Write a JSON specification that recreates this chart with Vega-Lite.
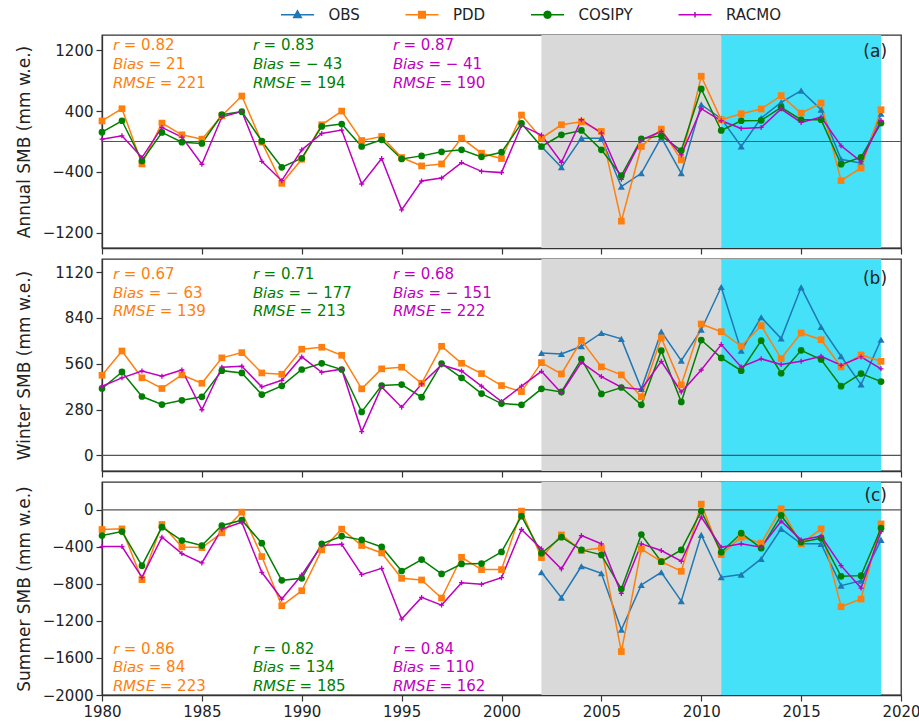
{
"$schema": "https://vega.github.io/schema/vega-lite/v6.json",
"padding": {"left": 14, "top": 7, "right": 8, "bottom": 4},
"background": "white",
"config": {
  "font": "DejaVu Sans",
  "view": {"stroke": "#333333", "strokeWidth": 1.3},
  "axis": {"grid": false, "domainColor": "#333333", "domainWidth": 1.3, "tickColor": "#333333", "tickWidth": 1.2, "tickSize": 6, "labelFontSize": 15, "labelColor": "#222222", "labelPadding": 3, "labelFlush": false, "titleFontSize": 17, "titleFontWeight": "normal", "titleColor": "#222222", "labelFont": "DejaVu Sans", "titleFont": "DejaVu Sans"},
  "text": {"font": "DejaVu Sans"}
},
"datasets": {
  "periods": [{"period": "calibration", "year": 2002, "end": 2011}, {"period": "validation", "year": 2011, "end": 2019}],
  "stats": [
    {"panel": "a", "model": "PDD", "year": 1980.55, "smb": 1267, "text": ["\uD835\uDE33 = 0.82", "\uD835\uDE09\uD835\uDE2A\uD835\uDE22\uD835\uDE34 = 21", "\uD835\uDE19\uD835\uDE14\uD835\uDE1A\uD835\uDE0C = 221"]},
    {"panel": "a", "model": "COSIPY", "year": 1987.55, "smb": 1267, "text": ["\uD835\uDE33 = 0.83", "\uD835\uDE09\uD835\uDE2A\uD835\uDE22\uD835\uDE34 = \u2212 43", "\uD835\uDE19\uD835\uDE14\uD835\uDE1A\uD835\uDE0C = 194"]},
    {"panel": "a", "model": "RACMO", "year": 1994.55, "smb": 1267, "text": ["\uD835\uDE33 = 0.87", "\uD835\uDE09\uD835\uDE2A\uD835\uDE22\uD835\uDE34 = \u2212 41", "\uD835\uDE19\uD835\uDE14\uD835\uDE1A\uD835\uDE0C = 190"]},
    {"panel": "b", "model": "PDD", "year": 1980.55, "smb": 1108, "text": ["\uD835\uDE33 = 0.67", "\uD835\uDE09\uD835\uDE2A\uD835\uDE22\uD835\uDE34 = \u2212 63", "\uD835\uDE19\uD835\uDE14\uD835\uDE1A\uD835\uDE0C = 139"]},
    {"panel": "b", "model": "COSIPY", "year": 1987.55, "smb": 1108, "text": ["\uD835\uDE33 = 0.71", "\uD835\uDE09\uD835\uDE2A\uD835\uDE22\uD835\uDE34 = \u2212 177", "\uD835\uDE19\uD835\uDE14\uD835\uDE1A\uD835\uDE0C = 213"]},
    {"panel": "b", "model": "RACMO", "year": 1994.55, "smb": 1108, "text": ["\uD835\uDE33 = 0.68", "\uD835\uDE09\uD835\uDE2A\uD835\uDE22\uD835\uDE34 = \u2212 151", "\uD835\uDE19\uD835\uDE14\uD835\uDE1A\uD835\uDE0C = 222"]},
    {"panel": "c", "model": "PDD", "year": 1980.55, "smb": -1499, "text": ["\uD835\uDE33 = 0.86", "\uD835\uDE09\uD835\uDE2A\uD835\uDE22\uD835\uDE34 = 84", "\uD835\uDE19\uD835\uDE14\uD835\uDE1A\uD835\uDE0C = 223"]},
    {"panel": "c", "model": "COSIPY", "year": 1987.55, "smb": -1499, "text": ["\uD835\uDE33 = 0.82", "\uD835\uDE09\uD835\uDE2A\uD835\uDE22\uD835\uDE34 = 134", "\uD835\uDE19\uD835\uDE14\uD835\uDE1A\uD835\uDE0C = 185"]},
    {"panel": "c", "model": "RACMO", "year": 1994.55, "smb": -1499, "text": ["\uD835\uDE33 = 0.84", "\uD835\uDE09\uD835\uDE2A\uD835\uDE22\uD835\uDE34 = 110", "\uD835\uDE19\uD835\uDE14\uD835\uDE1A\uD835\uDE0C = 162"]}
  ],
  "annual": [
    {"model":"OBS","year":2002,"smb":-66},{"model":"OBS","year":2003,"smb":-339},{"model":"OBS","year":2004,"smb":44},{"model":"OBS","year":2005,"smb":44},{"model":"OBS","year":2006,"smb":-594},{"model":"OBS","year":2007,"smb":-418},{"model":"OBS","year":2008,"smb":55},{"model":"OBS","year":2009,"smb":-418},{"model":"OBS","year":2010,"smb":484},{"model":"OBS","year":2011,"smb":300},{"model":"OBS","year":2012,"smb":-66},{"model":"OBS","year":2013,"smb":308},{"model":"OBS","year":2014,"smb":515},{"model":"OBS","year":2015,"smb":669},{"model":"OBS","year":2016,"smb":418},{"model":"OBS","year":2017,"smb":-233},{"model":"OBS","year":2018,"smb":-286},{"model":"OBS","year":2019,"smb":365},
    {"model":"PDD","year":1980,"smb":270},{"model":"PDD","year":1981,"smb":431},{"model":"PDD","year":1982,"smb":-295},{"model":"PDD","year":1983,"smb":242},{"model":"PDD","year":1984,"smb":88},{"model":"PDD","year":1985,"smb":31},{"model":"PDD","year":1986,"smb":339},{"model":"PDD","year":1987,"smb":598},{"model":"PDD","year":1988,"smb":-9},{"model":"PDD","year":1989,"smb":-550},{"model":"PDD","year":1990,"smb":-233},{"model":"PDD","year":1991,"smb":220},{"model":"PDD","year":1992,"smb":400},{"model":"PDD","year":1993,"smb":13},{"model":"PDD","year":1994,"smb":66},{"model":"PDD","year":1995,"smb":-211},{"model":"PDD","year":1996,"smb":-321},{"model":"PDD","year":1997,"smb":-295},{"model":"PDD","year":1998,"smb":44},{"model":"PDD","year":1999,"smb":-154},{"model":"PDD","year":2000,"smb":-224},{"model":"PDD","year":2001,"smb":348},{"model":"PDD","year":2002,"smb":44},{"model":"PDD","year":2003,"smb":220},{"model":"PDD","year":2004,"smb":260},{"model":"PDD","year":2005,"smb":132},{"model":"PDD","year":2006,"smb":-1047},{"model":"PDD","year":2007,"smb":-66},{"model":"PDD","year":2008,"smb":163},{"model":"PDD","year":2009,"smb":-242},{"model":"PDD","year":2010,"smb":858},{"model":"PDD","year":2011,"smb":286},{"model":"PDD","year":2012,"smb":365},{"model":"PDD","year":2013,"smb":427},{"model":"PDD","year":2014,"smb":603},{"model":"PDD","year":2015,"smb":374},{"model":"PDD","year":2016,"smb":506},{"model":"PDD","year":2017,"smb":-515},{"model":"PDD","year":2018,"smb":-348},{"model":"PDD","year":2019,"smb":418},
    {"model":"COSIPY","year":1980,"smb":123},{"model":"COSIPY","year":1981,"smb":273},{"model":"COSIPY","year":1982,"smb":-255},{"model":"COSIPY","year":1983,"smb":119},{"model":"COSIPY","year":1984,"smb":-9},{"model":"COSIPY","year":1985,"smb":-26},{"model":"COSIPY","year":1986,"smb":352},{"model":"COSIPY","year":1987,"smb":392},{"model":"COSIPY","year":1988,"smb":4},{"model":"COSIPY","year":1989,"smb":-339},{"model":"COSIPY","year":1990,"smb":-220},{"model":"COSIPY","year":1991,"smb":198},{"model":"COSIPY","year":1992,"smb":229},{"model":"COSIPY","year":1993,"smb":-66},{"model":"COSIPY","year":1994,"smb":22},{"model":"COSIPY","year":1995,"smb":-229},{"model":"COSIPY","year":1996,"smb":-189},{"model":"COSIPY","year":1997,"smb":-136},{"model":"COSIPY","year":1998,"smb":-110},{"model":"COSIPY","year":1999,"smb":-202},{"model":"COSIPY","year":2000,"smb":-141},{"model":"COSIPY","year":2001,"smb":238},{"model":"COSIPY","year":2002,"smb":-66},{"model":"COSIPY","year":2003,"smb":88},{"model":"COSIPY","year":2004,"smb":145},{"model":"COSIPY","year":2005,"smb":-110},{"model":"COSIPY","year":2006,"smb":-449},{"model":"COSIPY","year":2007,"smb":35},{"model":"COSIPY","year":2008,"smb":75},{"model":"COSIPY","year":2009,"smb":-119},{"model":"COSIPY","year":2010,"smb":691},{"model":"COSIPY","year":2011,"smb":145},{"model":"COSIPY","year":2012,"smb":273},{"model":"COSIPY","year":2013,"smb":277},{"model":"COSIPY","year":2014,"smb":449},{"model":"COSIPY","year":2015,"smb":286},{"model":"COSIPY","year":2016,"smb":286},{"model":"COSIPY","year":2017,"smb":-299},{"model":"COSIPY","year":2018,"smb":-207},{"model":"COSIPY","year":2019,"smb":242},
    {"model":"RACMO","year":1980,"smb":31},{"model":"RACMO","year":1981,"smb":75},{"model":"RACMO","year":1982,"smb":-211},{"model":"RACMO","year":1983,"smb":185},{"model":"RACMO","year":1984,"smb":57},{"model":"RACMO","year":1985,"smb":-299},{"model":"RACMO","year":1986,"smb":321},{"model":"RACMO","year":1987,"smb":396},{"model":"RACMO","year":1988,"smb":-260},{"model":"RACMO","year":1989,"smb":-515},{"model":"RACMO","year":1990,"smb":-110},{"model":"RACMO","year":1991,"smb":106},{"model":"RACMO","year":1992,"smb":150},{"model":"RACMO","year":1993,"smb":-559},{"model":"RACMO","year":1994,"smb":-224},{"model":"RACMO","year":1995,"smb":-898},{"model":"RACMO","year":1996,"smb":-519},{"model":"RACMO","year":1997,"smb":-480},{"model":"RACMO","year":1998,"smb":-277},{"model":"RACMO","year":1999,"smb":-392},{"model":"RACMO","year":2000,"smb":-409},{"model":"RACMO","year":2001,"smb":211},{"model":"RACMO","year":2002,"smb":84},{"model":"RACMO","year":2003,"smb":-273},{"model":"RACMO","year":2004,"smb":286},{"model":"RACMO","year":2005,"smb":110},{"model":"RACMO","year":2006,"smb":-497},{"model":"RACMO","year":2007,"smb":22},{"model":"RACMO","year":2008,"smb":132},{"model":"RACMO","year":2009,"smb":-176},{"model":"RACMO","year":2010,"smb":431},{"model":"RACMO","year":2011,"smb":273},{"model":"RACMO","year":2012,"smb":172},{"model":"RACMO","year":2013,"smb":185},{"model":"RACMO","year":2014,"smb":427},{"model":"RACMO","year":2015,"smb":251},{"model":"RACMO","year":2016,"smb":321},{"model":"RACMO","year":2017,"smb":-57},{"model":"RACMO","year":2018,"smb":-264},{"model":"RACMO","year":2019,"smb":277}
  ],
  "winter": [
    {"model":"OBS","year":2002,"smb":626},{"model":"OBS","year":2003,"smb":620},{"model":"OBS","year":2004,"smb":667},{"model":"OBS","year":2005,"smb":748},{"model":"OBS","year":2006,"smb":712},{"model":"OBS","year":2007,"smb":407},{"model":"OBS","year":2008,"smb":756},{"model":"OBS","year":2009,"smb":579},{"model":"OBS","year":2010,"smb":768},{"model":"OBS","year":2011,"smb":1029},{"model":"OBS","year":2012,"smb":640},{"model":"OBS","year":2013,"smb":844},{"model":"OBS","year":2014,"smb":714},{"model":"OBS","year":2015,"smb":1027},{"model":"OBS","year":2016,"smb":785},{"model":"OBS","year":2017,"smb":606},{"model":"OBS","year":2018,"smb":433},{"model":"OBS","year":2019,"smb":707},
    {"model":"PDD","year":1980,"smb":490},{"model":"PDD","year":1981,"smb":638},{"model":"PDD","year":1982,"smb":474},{"model":"PDD","year":1983,"smb":409},{"model":"PDD","year":1984,"smb":492},{"model":"PDD","year":1985,"smb":441},{"model":"PDD","year":1986,"smb":596},{"model":"PDD","year":1987,"smb":628},{"model":"PDD","year":1988,"smb":504},{"model":"PDD","year":1989,"smb":496},{"model":"PDD","year":1990,"smb":649},{"model":"PDD","year":1991,"smb":661},{"model":"PDD","year":1992,"smb":612},{"model":"PDD","year":1993,"smb":407},{"model":"PDD","year":1994,"smb":529},{"model":"PDD","year":1995,"smb":539},{"model":"PDD","year":1996,"smb":441},{"model":"PDD","year":1997,"smb":667},{"model":"PDD","year":1998,"smb":563},{"model":"PDD","year":1999,"smb":500},{"model":"PDD","year":2000,"smb":427},{"model":"PDD","year":2001,"smb":390},{"model":"PDD","year":2002,"smb":567},{"model":"PDD","year":2003,"smb":498},{"model":"PDD","year":2004,"smb":703},{"model":"PDD","year":2005,"smb":541},{"model":"PDD","year":2006,"smb":492},{"model":"PDD","year":2007,"smb":358},{"model":"PDD","year":2008,"smb":718},{"model":"PDD","year":2009,"smb":431},{"model":"PDD","year":2010,"smb":803},{"model":"PDD","year":2011,"smb":756},{"model":"PDD","year":2012,"smb":667},{"model":"PDD","year":2013,"smb":793},{"model":"PDD","year":2014,"smb":592},{"model":"PDD","year":2015,"smb":748},{"model":"PDD","year":2016,"smb":707},{"model":"PDD","year":2017,"smb":541},{"model":"PDD","year":2018,"smb":614},{"model":"PDD","year":2019,"smb":575},
    {"model":"COSIPY","year":1980,"smb":409},{"model":"COSIPY","year":1981,"smb":510},{"model":"COSIPY","year":1982,"smb":360},{"model":"COSIPY","year":1983,"smb":311},{"model":"COSIPY","year":1984,"smb":337},{"model":"COSIPY","year":1985,"smb":358},{"model":"COSIPY","year":1986,"smb":518},{"model":"COSIPY","year":1987,"smb":504},{"model":"COSIPY","year":1988,"smb":372},{"model":"COSIPY","year":1989,"smb":425},{"model":"COSIPY","year":1990,"smb":525},{"model":"COSIPY","year":1991,"smb":563},{"model":"COSIPY","year":1992,"smb":525},{"model":"COSIPY","year":1993,"smb":266},{"model":"COSIPY","year":1994,"smb":427},{"model":"COSIPY","year":1995,"smb":433},{"model":"COSIPY","year":1996,"smb":356},{"model":"COSIPY","year":1997,"smb":561},{"model":"COSIPY","year":1998,"smb":474},{"model":"COSIPY","year":1999,"smb":378},{"model":"COSIPY","year":2000,"smb":317},{"model":"COSIPY","year":2001,"smb":309},{"model":"COSIPY","year":2002,"smb":407},{"model":"COSIPY","year":2003,"smb":388},{"model":"COSIPY","year":2004,"smb":588},{"model":"COSIPY","year":2005,"smb":376},{"model":"COSIPY","year":2006,"smb":415},{"model":"COSIPY","year":2007,"smb":309},{"model":"COSIPY","year":2008,"smb":640},{"model":"COSIPY","year":2009,"smb":327},{"model":"COSIPY","year":2010,"smb":705},{"model":"COSIPY","year":2011,"smb":596},{"model":"COSIPY","year":2012,"smb":518},{"model":"COSIPY","year":2013,"smb":701},{"model":"COSIPY","year":2014,"smb":502},{"model":"COSIPY","year":2015,"smb":642},{"model":"COSIPY","year":2016,"smb":586},{"model":"COSIPY","year":2017,"smb":423},{"model":"COSIPY","year":2018,"smb":500},{"model":"COSIPY","year":2019,"smb":451},
    {"model":"RACMO","year":1980,"smb":423},{"model":"RACMO","year":1981,"smb":474},{"model":"RACMO","year":1982,"smb":516},{"model":"RACMO","year":1983,"smb":484},{"model":"RACMO","year":1984,"smb":522},{"model":"RACMO","year":1985,"smb":279},{"model":"RACMO","year":1986,"smb":539},{"model":"RACMO","year":1987,"smb":545},{"model":"RACMO","year":1988,"smb":419},{"model":"RACMO","year":1989,"smb":459},{"model":"RACMO","year":1990,"smb":602},{"model":"RACMO","year":1991,"smb":508},{"model":"RACMO","year":1992,"smb":527},{"model":"RACMO","year":1993,"smb":146},{"model":"RACMO","year":1994,"smb":419},{"model":"RACMO","year":1995,"smb":295},{"model":"RACMO","year":1996,"smb":437},{"model":"RACMO","year":1997,"smb":553},{"model":"RACMO","year":1998,"smb":516},{"model":"RACMO","year":1999,"smb":423},{"model":"RACMO","year":2000,"smb":329},{"model":"RACMO","year":2001,"smb":423},{"model":"RACMO","year":2002,"smb":514},{"model":"RACMO","year":2003,"smb":382},{"model":"RACMO","year":2004,"smb":569},{"model":"RACMO","year":2005,"smb":482},{"model":"RACMO","year":2006,"smb":417},{"model":"RACMO","year":2007,"smb":403},{"model":"RACMO","year":2008,"smb":575},{"model":"RACMO","year":2009,"smb":388},{"model":"RACMO","year":2010,"smb":522},{"model":"RACMO","year":2011,"smb":677},{"model":"RACMO","year":2012,"smb":541},{"model":"RACMO","year":2013,"smb":590},{"model":"RACMO","year":2014,"smb":555},{"model":"RACMO","year":2015,"smb":575},{"model":"RACMO","year":2016,"smb":606},{"model":"RACMO","year":2017,"smb":551},{"model":"RACMO","year":2018,"smb":602},{"model":"RACMO","year":2019,"smb":529}
  ],
  "summer": [
    {"model":"OBS","year":2002,"smb":-675},{"model":"OBS","year":2003,"smb":-949},{"model":"OBS","year":2004,"smb":-610},{"model":"OBS","year":2005,"smb":-686},{"model":"OBS","year":2006,"smb":-1296},{"model":"OBS","year":2007,"smb":-812},{"model":"OBS","year":2008,"smb":-675},{"model":"OBS","year":2009,"smb":-986},{"model":"OBS","year":2010,"smb":-271},{"model":"OBS","year":2011,"smb":-729},{"model":"OBS","year":2012,"smb":-700},{"model":"OBS","year":2013,"smb":-531},{"model":"OBS","year":2014,"smb":-206},{"model":"OBS","year":2015,"smb":-368},{"model":"OBS","year":2016,"smb":-368},{"model":"OBS","year":2017,"smb":-819},{"model":"OBS","year":2018,"smb":-765},{"model":"OBS","year":2019,"smb":-325},
    {"model":"PDD","year":1980,"smb":-213},{"model":"PDD","year":1981,"smb":-206},{"model":"PDD","year":1982,"smb":-754},{"model":"PDD","year":1983,"smb":-159},{"model":"PDD","year":1984,"smb":-401},{"model":"PDD","year":1985,"smb":-408},{"model":"PDD","year":1986,"smb":-249},{"model":"PDD","year":1987,"smb":-25},{"model":"PDD","year":1988,"smb":-505},{"model":"PDD","year":1989,"smb":-1036},{"model":"PDD","year":1990,"smb":-874},{"model":"PDD","year":1991,"smb":-433},{"model":"PDD","year":1992,"smb":-209},{"model":"PDD","year":1993,"smb":-386},{"model":"PDD","year":1994,"smb":-466},{"model":"PDD","year":1995,"smb":-740},{"model":"PDD","year":1996,"smb":-758},{"model":"PDD","year":1997,"smb":-953},{"model":"PDD","year":1998,"smb":-513},{"model":"PDD","year":1999,"smb":-646},{"model":"PDD","year":2000,"smb":-646},{"model":"PDD","year":2001,"smb":-14},{"model":"PDD","year":2002,"smb":-516},{"model":"PDD","year":2003,"smb":-271},{"model":"PDD","year":2004,"smb":-440},{"model":"PDD","year":2005,"smb":-412},{"model":"PDD","year":2006,"smb":-1531},{"model":"PDD","year":2007,"smb":-422},{"model":"PDD","year":2008,"smb":-560},{"model":"PDD","year":2009,"smb":-664},{"model":"PDD","year":2010,"smb":61},{"model":"PDD","year":2011,"smb":-484},{"model":"PDD","year":2012,"smb":-296},{"model":"PDD","year":2013,"smb":-361},{"model":"PDD","year":2014,"smb":11},{"model":"PDD","year":2015,"smb":-368},{"model":"PDD","year":2016,"smb":-206},{"model":"PDD","year":2017,"smb":-1047},{"model":"PDD","year":2018,"smb":-964},{"model":"PDD","year":2019,"smb":-152},
    {"model":"COSIPY","year":1980,"smb":-278},{"model":"COSIPY","year":1981,"smb":-235},{"model":"COSIPY","year":1982,"smb":-603},{"model":"COSIPY","year":1983,"smb":-188},{"model":"COSIPY","year":1984,"smb":-332},{"model":"COSIPY","year":1985,"smb":-386},{"model":"COSIPY","year":1986,"smb":-170},{"model":"COSIPY","year":1987,"smb":-112},{"model":"COSIPY","year":1988,"smb":-361},{"model":"COSIPY","year":1989,"smb":-762},{"model":"COSIPY","year":1990,"smb":-740},{"model":"COSIPY","year":1991,"smb":-368},{"model":"COSIPY","year":1992,"smb":-285},{"model":"COSIPY","year":1993,"smb":-325},{"model":"COSIPY","year":1994,"smb":-401},{"model":"COSIPY","year":1995,"smb":-661},{"model":"COSIPY","year":1996,"smb":-538},{"model":"COSIPY","year":1997,"smb":-693},{"model":"COSIPY","year":1998,"smb":-585},{"model":"COSIPY","year":1999,"smb":-581},{"model":"COSIPY","year":2000,"smb":-455},{"model":"COSIPY","year":2001,"smb":-69},{"model":"COSIPY","year":2002,"smb":-469},{"model":"COSIPY","year":2003,"smb":-296},{"model":"COSIPY","year":2004,"smb":-433},{"model":"COSIPY","year":2005,"smb":-487},{"model":"COSIPY","year":2006,"smb":-856},{"model":"COSIPY","year":2007,"smb":-267},{"model":"COSIPY","year":2008,"smb":-560},{"model":"COSIPY","year":2009,"smb":-433},{"model":"COSIPY","year":2010,"smb":-14},{"model":"COSIPY","year":2011,"smb":-458},{"model":"COSIPY","year":2012,"smb":-253},{"model":"COSIPY","year":2013,"smb":-415},{"model":"COSIPY","year":2014,"smb":-61},{"model":"COSIPY","year":2015,"smb":-350},{"model":"COSIPY","year":2016,"smb":-307},{"model":"COSIPY","year":2017,"smb":-718},{"model":"COSIPY","year":2018,"smb":-711},{"model":"COSIPY","year":2019,"smb":-199},
    {"model":"RACMO","year":1980,"smb":-397},{"model":"RACMO","year":1981,"smb":-397},{"model":"RACMO","year":1982,"smb":-729},{"model":"RACMO","year":1983,"smb":-296},{"model":"RACMO","year":1984,"smb":-473},{"model":"RACMO","year":1985,"smb":-574},{"model":"RACMO","year":1986,"smb":-209},{"model":"RACMO","year":1987,"smb":-134},{"model":"RACMO","year":1988,"smb":-675},{"model":"RACMO","year":1989,"smb":-964},{"model":"RACMO","year":1990,"smb":-704},{"model":"RACMO","year":1991,"smb":-386},{"model":"RACMO","year":1992,"smb":-372},{"model":"RACMO","year":1993,"smb":-700},{"model":"RACMO","year":1994,"smb":-632},{"model":"RACMO","year":1995,"smb":-1180},{"model":"RACMO","year":1996,"smb":-946},{"model":"RACMO","year":1997,"smb":-1029},{"model":"RACMO","year":1998,"smb":-787},{"model":"RACMO","year":1999,"smb":-805},{"model":"RACMO","year":2000,"smb":-733},{"model":"RACMO","year":2001,"smb":-213},{"model":"RACMO","year":2002,"smb":-422},{"model":"RACMO","year":2003,"smb":-639},{"model":"RACMO","year":2004,"smb":-278},{"model":"RACMO","year":2005,"smb":-368},{"model":"RACMO","year":2006,"smb":-903},{"model":"RACMO","year":2007,"smb":-368},{"model":"RACMO","year":2008,"smb":-440},{"model":"RACMO","year":2009,"smb":-556},{"model":"RACMO","year":2010,"smb":-79},{"model":"RACMO","year":2011,"smb":-404},{"model":"RACMO","year":2012,"smb":-368},{"model":"RACMO","year":2013,"smb":-404},{"model":"RACMO","year":2014,"smb":-123},{"model":"RACMO","year":2015,"smb":-325},{"model":"RACMO","year":2016,"smb":-285},{"model":"RACMO","year":2017,"smb":-603},{"model":"RACMO","year":2018,"smb":-845},{"model":"RACMO","year":2019,"smb":-235}
  ]
},
"spacing": 11,
"bounds": "flush",
"resolve": {"scale": {"x": "shared", "y": "independent", "color": "shared", "shape": "shared", "stroke": "shared", "fill": "shared"}, "axis": {"x": "independent", "y": "independent"}},
"vconcat": [
  {
    "width": 799, "height": 213,
    "layer": [
      {"data": {"name": "periods"}, "mark": {"type": "rect"},
       "encoding": {"x": {"field": "year", "type": "quantitative", "scale": {"domain": [1980, 2020], "nice": false}, "axis": {"title": null, "labels": false, "values": [1980,1985,1990,1995,2000,2005,2010,2015,2020]}}, "x2": {"field": "end"},
        "fill": {"condition": {"test": "datum.period === 'calibration'", "value": "#d9d9d9"}, "value": "#45e1f8"}}},
      {"data": {"values": [{}]}, "mark": {"type": "rule", "color": "#555555", "strokeWidth": 1.2},
       "encoding": {"y": {"datum": 0, "type": "quantitative", "scale": {"domain": [-1400, 1400], "nice": false, "zero": false}}}},
      {"data": {"name": "annual"}, "mark": {"type": "line", "strokeWidth": 1.5},
       "encoding": {
         "x": {"field": "year", "type": "quantitative", "scale": {"domain": [1980, 2020], "nice": false}, "axis": {"title": null, "labels": false, "values": [1980,1985,1990,1995,2000,2005,2010,2015,2020]}},
         "y": {"field": "smb", "type": "quantitative", "scale": {"domain": [-1400, 1400], "nice": false, "zero": false}, "axis": {"title": "Annual SMB (mm w.e.)", "values": [-1200,-800,-400,0,400,800,1200], "format": "d", "minExtent": 60, "maxExtent": 60, "titlePadding": 9}},
         "stroke": {"field": "model", "type": "nominal", "scale": {"domain": ["RACMO", "COSIPY", "PDD", "OBS"], "range": ["#bf00bf", "#008000", "#ff7f0e", "#1f77b4"]}, "legend": null},
         "detail": {"field": "model"}}},
      {"data": {"name": "annual"}, "transform": [{"filter": "datum.model === 'OBS'"}], "mark": {"type": "point", "filled": true, "opacity": 1, "shape": "triangle-up", "size": 50},
       "encoding": {"x": {"field": "year", "type": "quantitative"}, "y": {"field": "smb", "type": "quantitative"}, "fill": {"field": "model", "type": "nominal", "scale": {"domain": ["PDD", "COSIPY", "RACMO", "OBS"], "range": ["#ff7f0e", "#008000", "#bf00bf", "#1f77b4"]}, "legend": null}}},
      {"data": {"name": "annual"}, "transform": [{"filter": "datum.model === 'PDD'"}], "mark": {"type": "point", "filled": true, "opacity": 1, "shape": "square", "size": 45},
       "encoding": {"x": {"field": "year", "type": "quantitative"}, "y": {"field": "smb", "type": "quantitative"}, "fill": {"field": "model", "type": "nominal", "legend": null}}},
      {"data": {"name": "annual"}, "transform": [{"filter": "datum.model === 'COSIPY'"}], "mark": {"type": "point", "filled": true, "opacity": 1, "shape": "circle", "size": 45},
       "encoding": {"x": {"field": "year", "type": "quantitative"}, "y": {"field": "smb", "type": "quantitative"}, "fill": {"field": "model", "type": "nominal", "legend": null}}},
      {"data": {"name": "annual"}, "transform": [{"filter": "datum.model === 'RACMO'"}], "mark": {"type": "point", "filled": false, "opacity": 1, "shape": "M-1,0H1M0,-1V1", "size": 25, "strokeWidth": 1.3},
       "encoding": {"x": {"field": "year", "type": "quantitative"}, "y": {"field": "smb", "type": "quantitative"}, "stroke": {"field": "model", "type": "nominal", "legend": null}}},
      {"data": {"name": "annual"}, "transform": [{"filter": "datum.year < 0"}], "mark": {"type": "point", "filled": false, "opacity": 1, "strokeWidth": 1.5},
       "encoding": {"x": {"field": "year", "type": "quantitative"}, "y": {"field": "smb", "type": "quantitative"},
         "color": {"field": "model", "type": "nominal", "scale": {"domain": ["OBS", "PDD", "COSIPY", "RACMO"], "range": ["#1f77b4", "#ff7f0e", "#008000", "#bf00bf"]},
           "legend": {"orient": "none", "legendX": 188, "legendY": -28, "direction": "horizontal", "title": null, "symbolSize": 100, "symbolStrokeWidth": 1.5, "symbolOpacity": 1, "labelFontSize": 15, "labelColor": "#222222", "labelOffset": 23.5, "columnPadding": 42.5, "padding": 0}},
         "shape": {"field": "model", "type": "nominal",
           "scale": {"domain": ["OBS", "PDD", "COSIPY", "RACMO"], "range": [
             "M-3.3,0H3.3M0,-0.8L0.75,0.55L-0.75,0.55ZM0,-0.5L0.47,0.35L-0.47,0.35ZM0,-0.2L0.18,0.15L-0.18,0.15Z",
             "M-3.3,0H3.3M-0.65,-0.65H0.65V0.65H-0.65ZM-0.38,-0.38H0.38V0.38H-0.38ZM-0.1,-0.1H0.1V0.1H-0.1Z",
             "M-3.3,0H3.3M0.7,0L0.606,0.35L0.35,0.606L0,0.7L-0.35,0.606L-0.606,0.35L-0.7,0L-0.606,-0.35L-0.35,-0.606L0,-0.7L0.35,-0.606L0.606,-0.35ZM0.4,0L0.346,0.2L0.2,0.346L0,0.4L-0.2,0.346L-0.346,0.2L-0.4,0L-0.346,-0.2L-0.2,-0.346L0,-0.4L0.2,-0.346L0.346,-0.2ZM-0.1,-0.1H0.1V0.1H-0.1Z",
             "M-3.3,0H3.3M0,-0.55V0.55"]},
           "legend": {"orient": "none", "legendX": 188, "legendY": -28, "direction": "horizontal", "title": null, "symbolSize": 100, "symbolStrokeWidth": 1.5, "symbolOpacity": 1, "labelFontSize": 15, "labelColor": "#222222", "labelOffset": 23.5, "columnPadding": 42.5, "padding": 0}}}},
      {"data": {"name": "stats"}, "transform": [{"filter": "datum.panel === 'a'"}],
       "mark": {"type": "text", "align": "left", "baseline": "middle", "fontSize": 15, "lineHeight": 18.7},
       "encoding": {"x": {"field": "year", "type": "quantitative"}, "y": {"field": "smb", "type": "quantitative"}, "text": {"field": "text"}, "fill": {"field": "model", "type": "nominal", "legend": null}}},
      {"data": {"values": [{}]}, "mark": {"type": "text", "align": "right", "baseline": "middle", "fontSize": 17, "color": "#222222"},
       "encoding": {"x": {"datum": 2019.3, "type": "quantitative"}, "y": {"datum": 1180, "type": "quantitative"}, "text": {"value": "(a)"}}}
    ]
  },
  {
    "width": 799, "height": 212,
    "layer": [
      {"data": {"name": "periods"}, "mark": {"type": "rect"},
       "encoding": {"x": {"field": "year", "type": "quantitative", "scale": {"domain": [1980, 2020], "nice": false}, "axis": {"title": null, "labels": false, "values": [1980,1985,1990,1995,2000,2005,2010,2015,2020]}}, "x2": {"field": "end"},
        "fill": {"condition": {"test": "datum.period === 'calibration'", "value": "#d9d9d9"}, "value": "#45e1f8"}}},
      {"data": {"values": [{}]}, "mark": {"type": "rule", "color": "#555555", "strokeWidth": 1.2},
       "encoding": {"y": {"datum": 0, "type": "quantitative", "scale": {"domain": [-95, 1200], "nice": false, "zero": false}}}},
      {"data": {"name": "winter"}, "mark": {"type": "line", "strokeWidth": 1.5},
       "encoding": {
         "x": {"field": "year", "type": "quantitative", "scale": {"domain": [1980, 2020], "nice": false}, "axis": {"title": null, "labels": false, "values": [1980,1985,1990,1995,2000,2005,2010,2015,2020]}},
         "y": {"field": "smb", "type": "quantitative", "scale": {"domain": [-95, 1200], "nice": false, "zero": false}, "axis": {"title": "Winter SMB (mm w.e.)", "values": [0,280,560,840,1120], "format": "d", "minExtent": 60, "maxExtent": 60, "titlePadding": 9}},
         "stroke": {"field": "model", "type": "nominal", "legend": null},
         "detail": {"field": "model"}}},
      {"data": {"name": "winter"}, "transform": [{"filter": "datum.model === 'OBS'"}], "mark": {"type": "point", "filled": true, "opacity": 1, "shape": "triangle-up", "size": 50},
       "encoding": {"x": {"field": "year", "type": "quantitative"}, "y": {"field": "smb", "type": "quantitative"}, "fill": {"field": "model", "type": "nominal", "legend": null}}},
      {"data": {"name": "winter"}, "transform": [{"filter": "datum.model === 'PDD'"}], "mark": {"type": "point", "filled": true, "opacity": 1, "shape": "square", "size": 45},
       "encoding": {"x": {"field": "year", "type": "quantitative"}, "y": {"field": "smb", "type": "quantitative"}, "fill": {"field": "model", "type": "nominal", "legend": null}}},
      {"data": {"name": "winter"}, "transform": [{"filter": "datum.model === 'COSIPY'"}], "mark": {"type": "point", "filled": true, "opacity": 1, "shape": "circle", "size": 45},
       "encoding": {"x": {"field": "year", "type": "quantitative"}, "y": {"field": "smb", "type": "quantitative"}, "fill": {"field": "model", "type": "nominal", "legend": null}}},
      {"data": {"name": "winter"}, "transform": [{"filter": "datum.model === 'RACMO'"}], "mark": {"type": "point", "filled": false, "opacity": 1, "shape": "M-1,0H1M0,-1V1", "size": 25, "strokeWidth": 1.3},
       "encoding": {"x": {"field": "year", "type": "quantitative"}, "y": {"field": "smb", "type": "quantitative"}, "stroke": {"field": "model", "type": "nominal", "legend": null}}},
      {"data": {"name": "stats"}, "transform": [{"filter": "datum.panel === 'b'"}],
       "mark": {"type": "text", "align": "left", "baseline": "middle", "fontSize": 15, "lineHeight": 18.7},
       "encoding": {"x": {"field": "year", "type": "quantitative"}, "y": {"field": "smb", "type": "quantitative"}, "text": {"field": "text"}, "fill": {"field": "model", "type": "nominal", "legend": null}}},
      {"data": {"values": [{}]}, "mark": {"type": "text", "align": "right", "baseline": "middle", "fontSize": 17, "color": "#222222"},
       "encoding": {"x": {"datum": 2019.3, "type": "quantitative"}, "y": {"datum": 1080, "type": "quantitative"}, "text": {"value": "(b)"}}}
    ]
  },
  {
    "width": 799, "height": 213,
    "layer": [
      {"data": {"name": "periods"}, "mark": {"type": "rect"},
       "encoding": {"x": {"field": "year", "type": "quantitative", "scale": {"domain": [1980, 2020], "nice": false}, "axis": {"title": null, "format": "d", "values": [1980,1985,1990,1995,2000,2005,2010,2015,2020]}}, "x2": {"field": "end"},
        "fill": {"condition": {"test": "datum.period === 'calibration'", "value": "#d9d9d9"}, "value": "#45e1f8"}}},
      {"data": {"values": [{}]}, "mark": {"type": "rule", "color": "#555555", "strokeWidth": 1.2},
       "encoding": {"y": {"datum": 0, "type": "quantitative", "scale": {"domain": [-2000, 300], "nice": false, "zero": false}}}},
      {"data": {"name": "summer"}, "mark": {"type": "line", "strokeWidth": 1.5},
       "encoding": {
         "x": {"field": "year", "type": "quantitative", "scale": {"domain": [1980, 2020], "nice": false}, "axis": {"title": null, "format": "d", "values": [1980,1985,1990,1995,2000,2005,2010,2015,2020]}},
         "y": {"field": "smb", "type": "quantitative", "scale": {"domain": [-2000, 300], "nice": false, "zero": false}, "axis": {"title": "Summer SMB (mm w.e.)", "values": [-2000,-1600,-1200,-800,-400,0], "format": "d", "minExtent": 60, "maxExtent": 60, "titlePadding": 9}},
         "stroke": {"field": "model", "type": "nominal", "legend": null},
         "detail": {"field": "model"}}},
      {"data": {"name": "summer"}, "transform": [{"filter": "datum.model === 'OBS'"}], "mark": {"type": "point", "filled": true, "opacity": 1, "shape": "triangle-up", "size": 50},
       "encoding": {"x": {"field": "year", "type": "quantitative"}, "y": {"field": "smb", "type": "quantitative"}, "fill": {"field": "model", "type": "nominal", "legend": null}}},
      {"data": {"name": "summer"}, "transform": [{"filter": "datum.model === 'PDD'"}], "mark": {"type": "point", "filled": true, "opacity": 1, "shape": "square", "size": 45},
       "encoding": {"x": {"field": "year", "type": "quantitative"}, "y": {"field": "smb", "type": "quantitative"}, "fill": {"field": "model", "type": "nominal", "legend": null}}},
      {"data": {"name": "summer"}, "transform": [{"filter": "datum.model === 'COSIPY'"}], "mark": {"type": "point", "filled": true, "opacity": 1, "shape": "circle", "size": 45},
       "encoding": {"x": {"field": "year", "type": "quantitative"}, "y": {"field": "smb", "type": "quantitative"}, "fill": {"field": "model", "type": "nominal", "legend": null}}},
      {"data": {"name": "summer"}, "transform": [{"filter": "datum.model === 'RACMO'"}], "mark": {"type": "point", "filled": false, "opacity": 1, "shape": "M-1,0H1M0,-1V1", "size": 25, "strokeWidth": 1.3},
       "encoding": {"x": {"field": "year", "type": "quantitative"}, "y": {"field": "smb", "type": "quantitative"}, "stroke": {"field": "model", "type": "nominal", "legend": null}}},
      {"data": {"name": "stats"}, "transform": [{"filter": "datum.panel === 'c'"}],
       "mark": {"type": "text", "align": "left", "baseline": "middle", "fontSize": 15, "lineHeight": 18.7},
       "encoding": {"x": {"field": "year", "type": "quantitative"}, "y": {"field": "smb", "type": "quantitative"}, "text": {"field": "text"}, "fill": {"field": "model", "type": "nominal", "legend": null}}},
      {"data": {"values": [{}]}, "mark": {"type": "text", "align": "right", "baseline": "middle", "fontSize": 17, "color": "#222222"},
       "encoding": {"x": {"datum": 2019.3, "type": "quantitative"}, "y": {"datum": 150, "type": "quantitative"}, "text": {"value": "(c)"}}}
    ]
  }
]
}
